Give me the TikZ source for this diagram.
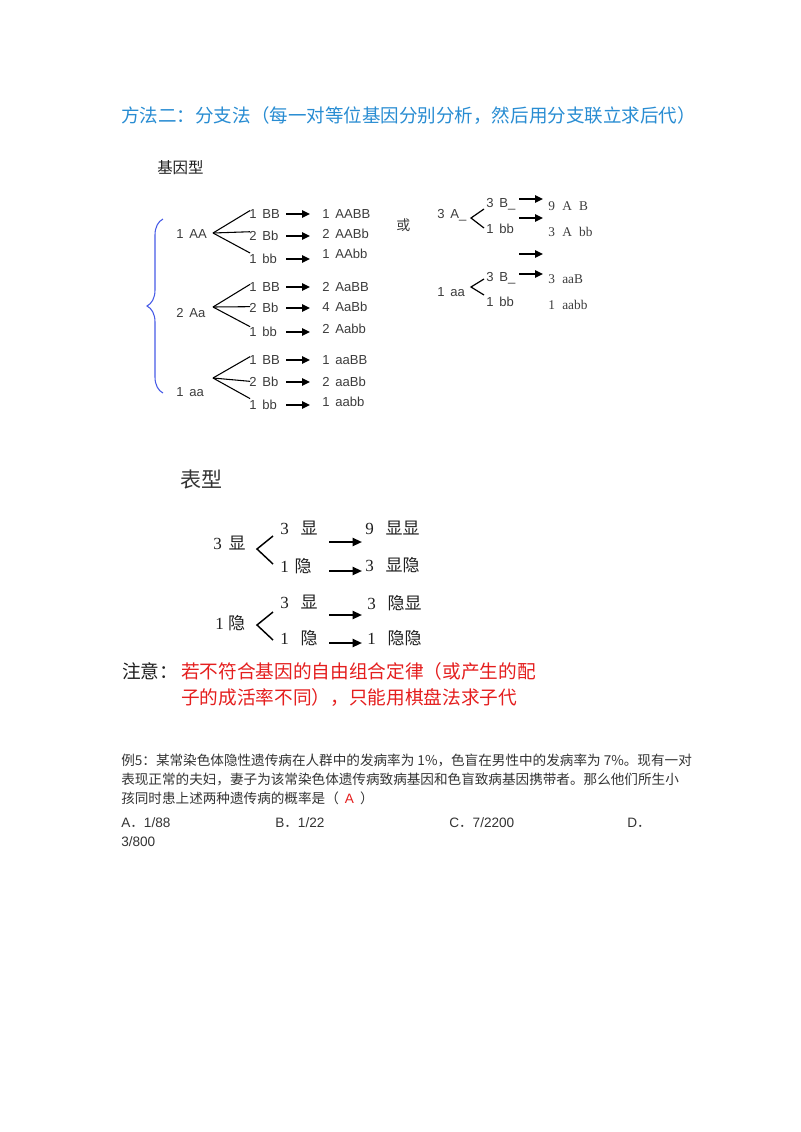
\documentclass[tikz,border=0pt]{standalone}
\usepackage{fontspec}
\setmainfont{Noto Sans CJK SC}
\newfontfamily\lsans{Liberation Sans}
\newfontfamily\lserif{Liberation Serif}
\usetikzlibrary{arrows.meta,decorations.pathreplacing}
\definecolor{titleblue}{RGB}{40,140,210}
\definecolor{txtgray}{RGB}{51,51,51}
\definecolor{treegray}{RGB}{60,60,60}
\definecolor{phgray}{RGB}{30,30,30}
\definecolor{bracecol}{RGB}{70,90,230}
\definecolor{notered}{RGB}{228,30,30}
\newcommand{\gsp}{\hspace{.45em}}
\begin{document}
\begin{tikzpicture}[x=0.75pt,y=-0.75pt,
  every node/.style={inner sep=0pt, anchor=west, text=txtgray},
  gt/.style={font=\lsans\fontsize{9.8}{11}\selectfont, text=treegray, text height=7pt, text depth=0pt},
  rs/.style={font=\lserif\fontsize{10}{12}\selectfont, text=treegray, text height=7pt, text depth=0pt},
  ph/.style={font=\fontsize{12.75}{15}\selectfont, text=phgray},
  tip/.style={-{Triangle[length=6pt,width=5.5pt]}, line width=1.1pt, black},
  tipb/.style={-{Triangle[length=7pt,width=6pt]}, line width=1.5pt, black},
  branch/.style={line width=0.8pt, black},
  chev/.style={line width=1.1pt, black},
]
\useasboundingbox (0,0) rectangle (800,1132);

% title
\node[font=\fontsize{13.9}{16}\selectfont, text=titleblue] (title) at (121,116) {方法二：分支法（每一对等位基因分别分析，然后用分支联立求后代）};
\node[font=\fontsize{11.6}{14}\selectfont, text=phgray] (jyx) at (157,168) {基因型};

% brace
\draw[bracecol, line width=0.8pt, decorate, decoration={brace, amplitude=12pt}] (163,393) -- (163,219);

% arrow columns
\coordinate (ax) at (286,0);
\coordinate (bx) at (310,0);

% group AA
\node[gt] (AA) at (176,234) {1\gsp AA};
\coordinate (vAA) at (213,233);
\node[gt] (AA1) at (249,214) {1\gsp BB};
\node[gt] (AA2) at (249,236) {2\gsp Bb};
\node[gt] (AA3) at (249,259) {1\gsp bb};
\node[gt] (AAr1) at (322,214) {1\gsp AABB};
\node[gt] (AAr2) at (322,234) {2\gsp AABb};
\node[gt] (AAr3) at (322,254) {1\gsp AAbb};
\draw[branch] (vAA) -- ([yshift=2.6pt,xshift=0.8pt]AA1.west);
\draw[branch] (vAA) -- ([yshift=3.2pt,xshift=0.8pt]AA2.west);
\draw[branch] (vAA) -- ([yshift=4.5pt,xshift=0.8pt]AA3.west);
\draw[tip] (AA1.east -| ax) -- (AA1.east -| bx);
\draw[tip] (AA2.east -| ax) -- (AA2.east -| bx);
\draw[tip] (AA3.east -| ax) -- (AA3.east -| bx);

% group Aa
\node[gt] (Aa) at (176,313) {2\gsp Aa};
\coordinate (vAa) at (213,307);
\node[gt] (Aa1) at (249,287) {1\gsp BB};
\node[gt] (Aa2) at (249,308) {2\gsp Bb};
\node[gt] (Aa3) at (249,332) {1\gsp bb};
\node[gt] (Aar1) at (322,287) {2\gsp AaBB};
\node[gt] (Aar2) at (322,307) {4\gsp AaBb};
\node[gt] (Aar3) at (322,329) {2\gsp Aabb};
\draw[branch] (vAa) -- ([yshift=2pt,xshift=0.8pt]Aa1.west);
\draw[branch] (vAa) -- ([yshift=1pt,xshift=0.8pt]Aa2.west);
\draw[branch] (vAa) -- ([yshift=4pt,xshift=0.8pt]Aa3.west);
\draw[tip] (Aa1.east -| ax) -- (Aa1.east -| bx);
\draw[tip] (Aa2.east -| ax) -- (Aa2.east -| bx);
\draw[tip] (Aa3.east -| ax) -- (Aa3.east -| bx);

% group aa
\node[gt] (aa) at (176,392) {1\gsp aa};
\coordinate (vaa) at (213,378);
\node[gt] (aa1) at (249,360) {1\gsp BB};
\node[gt] (aa2) at (249,382) {2\gsp Bb};
\node[gt] (aa3) at (249,405) {1\gsp bb};
\node[gt] (aar1) at (322,360) {1\gsp aaBB};
\node[gt] (aar2) at (322,382) {2\gsp aaBb};
\node[gt] (aar3) at (322,402) {1\gsp aabb};
\draw[branch] (vaa) -- ([yshift=2.5pt,xshift=0.8pt]aa1.west);
\draw[branch] (vaa) -- ([yshift=0.5pt,xshift=0.8pt]aa2.west);
\draw[branch] (vaa) -- ([yshift=4.8pt,xshift=0.8pt]aa3.west);
\draw[tip] (aa1.east -| ax) -- (aa1.east -| bx);
\draw[tip] (aa2.east -| ax) -- (aa2.east -| bx);
\draw[tip] (aa3.east -| ax) -- (aa3.east -| bx);

% or
\node[font=\fontsize{10.5}{12}\selectfont, text=treegray] (huo) at (396,225) {或};

% right tree
\node[gt] (RA) at (437,214) {3\gsp A\_};
\coordinate (cAt) at (484,209);
\coordinate (cAv) at (471,218);
\coordinate (cAb) at (484,228);
\draw[chev, line width=0.9pt] (cAt) -- (cAv) -- (cAb);
\node[gt] (RAB) at (486,203) {3\gsp B\_};
\node[gt] (RAb) at (486,229) {1\gsp bb};
\node[gt] (Ra) at (437,292) {1\gsp aa};
\coordinate (cat) at (484,279);
\coordinate (cav) at (471,287);
\coordinate (cab) at (484,295);
\draw[chev, line width=0.9pt] (cat) -- (cav) -- (cab);
\node[gt] (RaB) at (486,277) {3\gsp B\_};
\node[gt] (Rab) at (486,302) {1\gsp bb};
\coordinate (rs1) at (519,199); \coordinate (re1) at (543,199);
\coordinate (rs2) at (519,218); \coordinate (re2) at (543,218);
\coordinate (rs3) at (519,254); \coordinate (re3) at (543,254);
\coordinate (rs4) at (519,274); \coordinate (re4) at (543,274);
\draw[tip] (rs1) -- (re1);
\draw[tip] (rs2) -- (re2);
\draw[tip] (rs3) -- (re3);
\draw[tip] (rs4) -- (re4);
\node[rs] (RR1) at (548,206) {9\hspace{.55em}A\hspace{.55em}B};
\node[rs] (RR2) at (548,232) {3\hspace{.55em}A\hspace{.55em}bb};
\node[rs] (RR3) at (548,279) {3\hspace{.55em}aaB};
\node[rs] (RR4) at (548,305) {1\hspace{.55em}aabb};

% phenotype
\node[font=\fontsize{15.75}{18}\selectfont, text=txtgray] (bx) at (180,480) {表型};
\node[ph] (P1) at (213,543) {{\lserif 3}\hspace{.4em}显};
\coordinate (p1t) at (273,536);
\coordinate (p1v) at (257,549);
\coordinate (p1b) at (273,564);
\draw[chev] (p1t) -- (p1v) -- (p1b);
\node[ph] (P11) at (280,528) {{\lserif 3}\hspace{.7em}显};
\node[ph] (P12) at (280,566) {{\lserif 1}\hspace{.35em}隐};
\node[ph] (P1r1) at (365,528) {{\lserif 9}\hspace{.7em}显显};
\node[ph] (P1r2) at (365,565) {{\lserif 3}\hspace{.7em}显隐};
\coordinate (q1s) at (329,542); \coordinate (q1e) at (362,542);
\coordinate (q2s) at (329,571); \coordinate (q2e) at (362,571);
\draw[tipb] (q1s) -- (q1e);
\draw[tipb] (q2s) -- (q2e);

\node[ph] (P2) at (215,623) {{\lserif 1}\hspace{.25em}隐};
\coordinate (p2t) at (273,612);
\coordinate (p2v) at (257,625);
\coordinate (p2b) at (273,640);
\draw[chev] (p2t) -- (p2v) -- (p2b);
\node[ph] (P21) at (280,602) {{\lserif 3}\hspace{.7em}显};
\node[ph] (P22) at (280,638) {{\lserif 1}\hspace{.7em}隐};
\node[ph] (P2r1) at (367,603) {{\lserif 3}\hspace{.7em}隐显};
\node[ph] (P2r2) at (367,638) {{\lserif 1}\hspace{.7em}隐隐};
\coordinate (q3s) at (329,615); \coordinate (q3e) at (362,615);
\coordinate (q4s) at (329,643); \coordinate (q4e) at (362,643);
\draw[tipb] (q3s) -- (q3e);
\draw[tipb] (q4s) -- (q4e);

% note
\node[font=\fontsize{14}{16}\selectfont, text=phgray] (zy) at (122,671) {注意：};
\node[font=\fontsize{14}{16}\selectfont, text=notered] (n1) at (181,671) {若不符合基因的自由组合定律（或产生的配};
\node[font=\fontsize{14}{16}\selectfont, text=notered] (n2) at (181,697) {子的成活率不同），只能用棋盘法求子代};

% example
\node[font=\fontsize{10.2}{12}\selectfont] (e1) at (121,760) {例5：某常染色体隐性遗传病在人群中的发病率为 1\%，色盲在男性中的发病率为 7\%。现有一对};
\node[font=\fontsize{10.2}{12}\selectfont] (e2) at (121,779) {表现正常的夫妇，妻子为该常染色体遗传病致病基因和色盲致病基因携带者。那么他们所生小};
\node[font=\fontsize{10.2}{12}\selectfont] (e3) at (121,798) {孩同时患上述两种遗传病的概率是（\hspace{.45em}{\lsans\textcolor{notered}{A}}\hspace{.45em}）};
\node[font=\fontsize{10.2}{12}\selectfont] (oA) at (121,823) {{\lsans A}．{\lsans 1/88}};
\node[font=\fontsize{10.2}{12}\selectfont] (oB) at (275,823) {{\lsans B}．{\lsans 1/22}};
\node[font=\fontsize{10.2}{12}\selectfont] (oC) at (449,823) {{\lsans C}．{\lsans 7/2200}};
\node[font=\fontsize{10.2}{12}\selectfont] (oD) at (627,823) {{\lsans D}．};
\node[font=\fontsize{10.2}{12}\selectfont] (oD2) at (121,842) {{\lsans 3/800}};
\end{tikzpicture}
\end{document}
